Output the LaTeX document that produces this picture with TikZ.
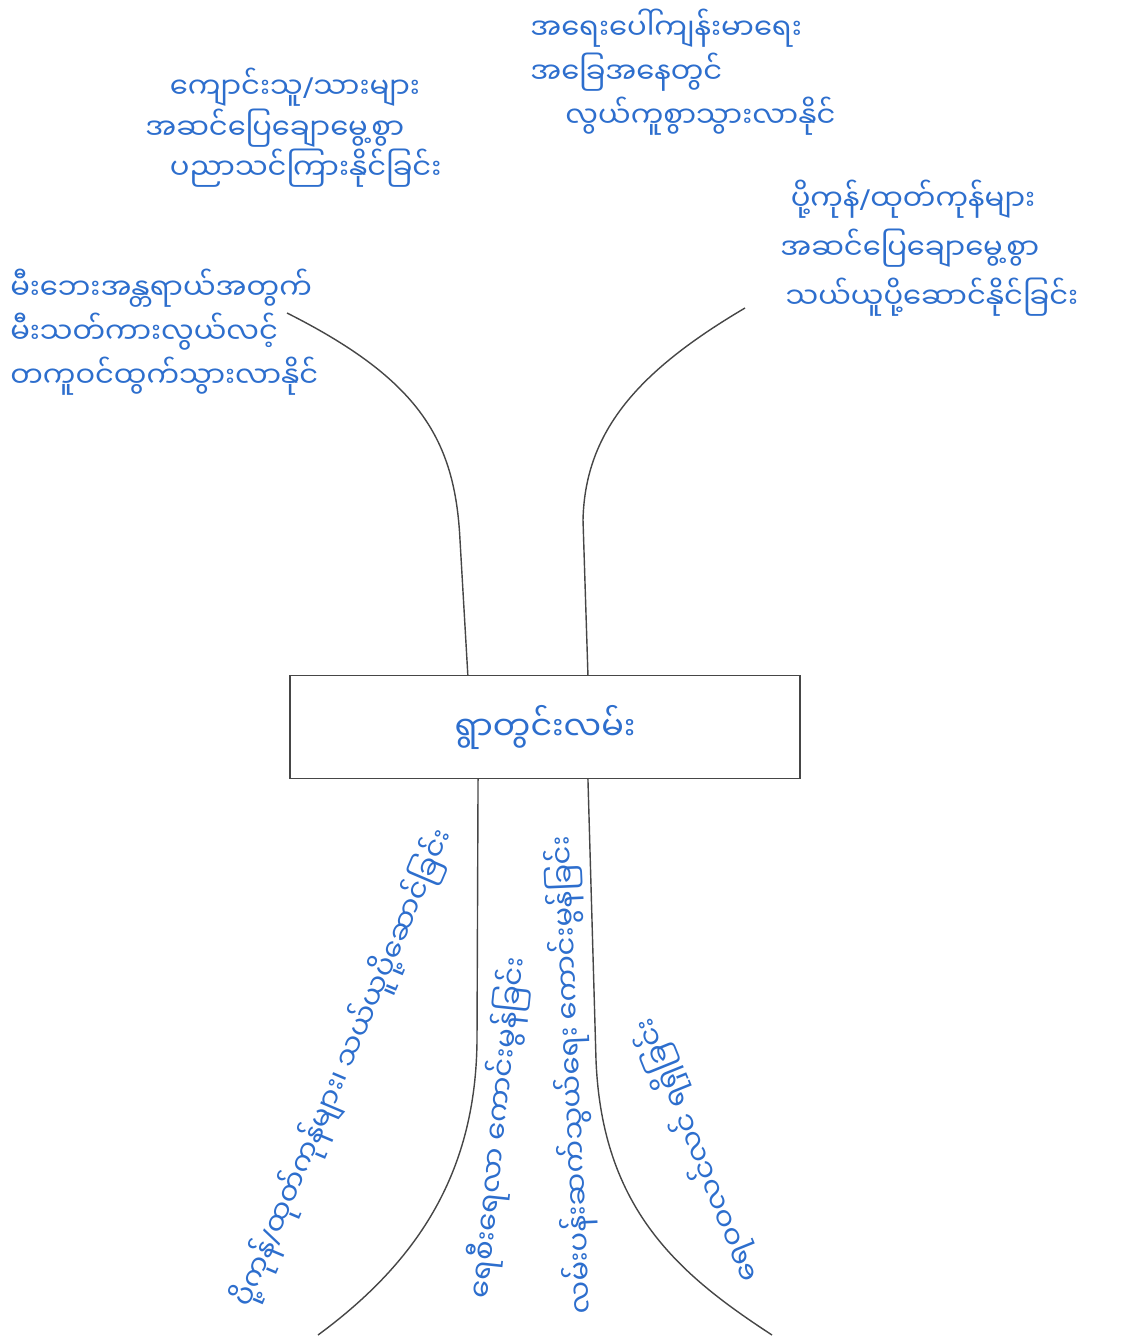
\documentclass[tikz,border=0pt]{standalone}
\usepackage{fontspec}
\newfontfamily\mmfont[Script=Myanmar]{Noto Sans Myanmar UI}
\newfontfamily\slashfont{Noto Sans}
\newcommand\mmslash{{\slashfont/}}
\usetikzlibrary{calc}
\definecolor{inkblue}{RGB}{45,110,205}
\definecolor{pencil}{RGB}{70,70,70}
\tikzset{
  note/.style={text=inkblue, font=\mmfont\fontsize{16.5}{25}\selectfont, inner sep=0pt},
  branch/.style={draw=pencil, line width=0.8pt},
}

\begin{document}
\begin{tikzpicture}[x=0.02cm, y=-0.02cm]
\useasboundingbox (0,0) rectangle (1128,1337);
% centre box
\node[draw=pencil, line width=0.7pt, minimum width=10.2cm, minimum height=2.06cm,
      text=inkblue, font=\mmfont\fontsize{19}{25}\selectfont] (road) at (545,727) {ရွာတွင်းလမ်း};

% upper notes
\node[note, align=left, anchor=west, font=\mmfont\fontsize{16.5}{23}\selectfont] (study) at (145,128)
  {\hspace*{14pt}ကျောင်းသူ\mmslash သားများ\\အဆင်ပြေချောမွေ့စွာ\\\hspace*{14pt}ပညာသင်ကြားနိုင်ခြင်း};
\node[note, align=left, anchor=west] (health) at (530,72)
  {အရေးပေါ်ကျန်းမာရေး\\အခြေအနေတွင်\\\hspace*{20pt}လွယ်ကူစွာသွားလာနိုင်};
\node[note, align=left, anchor=west, font=\mmfont\fontsize{16.5}{28}\selectfont] (goods) at (780,248)
  {\hspace*{6pt}ပို့ကုန်\mmslash ထုတ်ကုန်များ\\အဆင်ပြေချောမွေ့စွာ\\\hspace*{3pt}သယ်ယူပို့ဆောင်နိုင်ခြင်း};
\node[note, align=left, anchor=west] (fire) at (10,332)
  {မီးဘေးအန္တရာယ်အတွက်\\မီးသတ်ကားလွယ်လင့်\\တကူဝင်ထွက်သွားလာနိုင်};

% lower notes
\node[note, rotate=67] (trade) at (343,1068) {ပို့ကုန်\mmslash ထုတ်ကုန်များ၊ သယ်ယူပို့ဆောင်ခြင်း};
\node[note, rotate=84] (water) at (498,1128) {ရေစီးရေလာ ကောင်းမွန်ခြင်း};
\node[note, rotate=92.5] (link) at (572,1075) {လမ်းပန်းဆက်သွယ်ရေး ကောင်းမွန်ခြင်း};
\node[note, rotate=112] (supply) at (697,1150) {ရေဝဝလင်လင် ရရှိခြင်း};

% free ends of the branches
\coordinate (fireend) at (287,313);
\coordinate (goodsend) at (745,308);
\coordinate (tradeend) at (318,1335);
\coordinate (supplyend) at (772,1335);

% branches
\draw[branch] ($(road.north west)!0.349!(road.north east)$) -- (460,540)
  .. controls (455,440) and (420,380) .. (fireend);
\draw[branch] ($(road.north west)!0.584!(road.north east)$) -- (583,520)
  .. controls (585,430) and (640,370) .. (goodsend);
\draw[branch] ($(road.south west)!0.369!(road.south east)$) -- (477,1040)
  .. controls (476,1170) and (420,1260) .. (tradeend);
\draw[branch] ($(road.south west)!0.584!(road.south east)$) -- (596,1060)
  .. controls (602,1210) and (680,1275) .. (supplyend);
\end{tikzpicture}
\end{document}
